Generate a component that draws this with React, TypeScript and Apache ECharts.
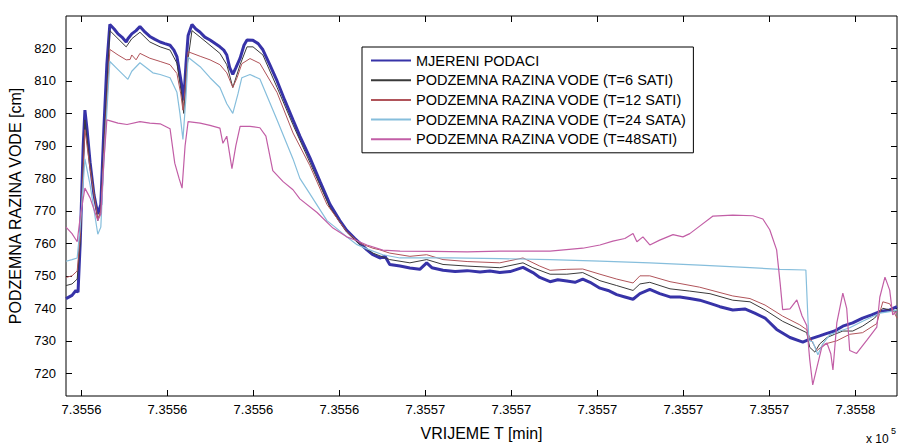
import React, { useEffect, useRef } from "react";
import * as echarts from "echarts";

// time in minutes, level in cm
const measured: [number, number][] = [
  [735557.64, 743], [735557.78, 744], [735557.87, 745.5], [735557.92, 745], [735557.97, 760], [735558.04, 790],
  [735558.08, 801], [735558.13, 795], [735558.2, 785], [735558.29, 775], [735558.38, 769], [735558.45, 772],
  [735558.52, 795], [735558.59, 815], [735558.66, 827.4], [735558.76, 826], [735558.85, 824.5], [735558.94, 823.5],
  [735559.04, 822], [735559.08, 823], [735559.17, 824.5], [735559.27, 825.5], [735559.36, 826.8], [735559.48, 825],
  [735559.59, 823.7], [735559.71, 822.8], [735559.83, 822], [735559.94, 821.5], [735560.06, 821], [735560.15, 819.5],
  [735560.22, 817.5], [735560.29, 812], [735560.34, 808], [735560.38, 804], [735560.43, 815], [735560.48, 824],
  [735560.57, 827.4], [735560.66, 826], [735560.76, 825], [735560.87, 823.5], [735560.99, 822.6], [735561.11, 821.5],
  [735561.22, 820.5], [735561.31, 819.5], [735561.38, 818], [735561.45, 814], [735561.52, 812], [735561.59, 814],
  [735561.69, 817], [735561.78, 821], [735561.85, 822.6], [735561.99, 822.5], [735562.11, 821.5], [735562.22, 819.6],
  [735562.38, 815], [735562.55, 810], [735562.73, 804], [735562.92, 798], [735563.08, 793], [735563.31, 786.5],
  [735563.55, 779], [735563.78, 772], [735564.01, 767], [735564.17, 764], [735564.36, 761.5], [735564.48, 760],
  [735564.64, 758], [735564.78, 756.5], [735564.94, 755.5], [735565.06, 756], [735565.17, 753.5], [735565.41, 753],
  [735565.64, 752.4], [735565.87, 752], [735566.03, 754], [735566.15, 752.5], [735566.41, 751.7], [735566.69, 751.3],
  [735566.97, 751.6], [735567.27, 751.2], [735567.5, 751.5], [735567.73, 751], [735567.97, 751.3], [735568.27, 752.6],
  [735568.5, 751], [735568.66, 749.5], [735568.9, 748.2], [735569.08, 748.8], [735569.29, 748.4], [735569.48, 748],
  [735569.66, 749], [735569.83, 748], [735570.06, 746.2], [735570.25, 745.5], [735570.45, 744.2], [735570.64, 743.5],
  [735570.83, 742.8], [735570.99, 744.5], [735571.22, 745.8], [735571.45, 744.5], [735571.69, 743.5], [735571.92, 743.5],
  [735572.15, 743], [735572.38, 742.5], [735572.62, 741.5], [735572.85, 740.5], [735573.15, 739.5], [735573.43, 739.8],
  [735573.66, 738.5], [735573.9, 737], [735574.17, 733.5], [735574.48, 731], [735574.78, 729.6], [735574.94, 730.5],
  [735575.17, 731.5], [735575.34, 732.3], [735575.52, 733], [735575.71, 734.5], [735575.94, 735.5], [735576.17, 737],
  [735576.38, 738], [735576.57, 739], [735576.8, 739.5], [735576.97, 740.5],
];

const model6h: [number, number][] = [
  [735557.64, 747], [735557.78, 747.5], [735557.9, 749], [735557.97, 760], [735558.08, 798], [735558.2, 784],
  [735558.38, 767], [735558.45, 770], [735558.52, 790], [735558.66, 825.5], [735558.85, 823], [735559.04, 820.5],
  [735559.17, 823], [735559.36, 825], [735559.59, 822], [735559.83, 820.5], [735560.06, 819.5], [735560.22, 815.5],
  [735560.34, 805], [735560.38, 800], [735560.43, 812], [735560.57, 825.5], [735560.76, 823.5], [735560.99, 821],
  [735561.22, 818.5], [735561.38, 815], [735561.52, 808], [735561.69, 815], [735561.85, 820.5], [735561.99, 820.5],
  [735562.22, 818], [735562.55, 808], [735562.92, 796.5], [735563.31, 785], [735563.78, 771], [735564.17, 763.5],
  [735564.48, 759.5], [735564.78, 757], [735565.17, 755], [735565.64, 754], [735566.03, 755], [735566.41, 753.5],
  [735566.97, 753], [735567.73, 752.5], [735568.27, 754], [735568.5, 752.5], [735568.9, 750.5], [735569.29, 750.5],
  [735569.66, 751], [735570.06, 748.5], [735570.45, 747], [735570.83, 745.5], [735570.99, 747.5], [735571.22, 748],
  [735571.69, 746], [735572.15, 745.3], [735572.62, 744.5], [735573.15, 742.5], [735573.55, 742], [735573.9, 739.5],
  [735574.31, 736], [735574.71, 733.5], [735574.87, 732.5], [735574.94, 728], [735575.06, 726.5], [735575.17, 729],
  [735575.34, 731], [735575.52, 732], [735575.71, 733], [735575.94, 733], [735576.17, 734.5], [735576.45, 737],
  [735576.64, 740], [735576.8, 739.5], [735576.97, 739],
];

const model12h: [number, number][] = [
  [735557.64, 749.5], [735557.78, 750], [735557.9, 751.5], [735557.97, 762], [735558.08, 795], [735558.2, 783],
  [735558.38, 767.5], [735558.45, 770], [735558.52, 788], [735558.66, 819.7], [735558.85, 818], [735559.04, 816.5],
  [735559.13, 816.6], [735559.17, 818], [735559.27, 816.5], [735559.36, 818.5], [735559.59, 817], [735559.83, 816],
  [735560.06, 815], [735560.22, 812.3], [735560.31, 806], [735560.36, 801], [735560.43, 810], [735560.48, 819],
  [735560.76, 817.6], [735560.99, 816.5], [735561.22, 815], [735561.38, 812.5], [735561.52, 808], [735561.62, 811],
  [735561.73, 815.3], [735561.92, 816.9], [735562.15, 815.4], [735562.55, 806.4], [735562.92, 794], [735563.31, 784],
  [735563.71, 772], [735564.17, 763.6], [735564.48, 760], [735564.78, 758.5], [735564.94, 758], [735565.17, 757],
  [735565.64, 756], [735566.03, 756.5], [735566.41, 755], [735566.97, 754.4], [735567.73, 754], [735568.27, 755.5],
  [735568.66, 753], [735568.9, 751.7], [735569.29, 752], [735569.66, 752.1], [735570.06, 750.5], [735570.45, 749],
  [735570.83, 747.8], [735570.99, 750], [735571.22, 750], [735571.69, 748.2], [735572.38, 746.5], [735573.15, 743.8],
  [735573.55, 743], [735573.9, 741], [735574.31, 737.6], [735574.71, 734.9], [735574.87, 733.4], [735574.94, 731],
  [735575.11, 727], [735575.29, 729], [735575.57, 730], [735575.87, 732], [735576.17, 732.5], [735576.5, 735.3],
  [735576.64, 742], [735576.8, 741.4], [735576.97, 737],
];

const model24h: [number, number][] = [
  [735557.64, 754.5], [735557.78, 755], [735557.9, 755.5], [735557.97, 765], [735558.08, 786], [735558.2, 778],
  [735558.38, 762.8], [735558.45, 765], [735558.52, 785], [735558.66, 816], [735558.85, 813.5], [735559.08, 810.5],
  [735559.17, 813], [735559.36, 815.6], [735559.66, 812.5], [735559.83, 812], [735560.06, 811], [735560.22, 806.5],
  [735560.29, 800], [735560.36, 792], [735560.43, 805], [735560.48, 817.3], [735560.76, 814.4], [735560.99, 811],
  [735561.22, 808], [735561.38, 803], [735561.52, 800], [735561.64, 806], [735561.73, 811], [735561.92, 812],
  [735562.15, 810.6], [735562.55, 798], [735562.92, 786], [735563.08, 780], [735563.31, 775.3], [735563.71, 767],
  [735563.9, 765], [735564.17, 762], [735564.41, 759.6], [735564.64, 758.3], [735565.01, 756.5], [735565.41, 755.5],
  [735566.57, 755.5], [735567.73, 755.3], [735568.9, 755], [735570.06, 754.5], [735571.22, 754], [735572.38, 753.3],
  [735573.55, 752.5], [735574.25, 752], [735574.85, 751.8], [735574.92, 730], [735575.01, 729.7], [735575.13, 725.7],
  [735575.24, 729], [735575.41, 731.9], [735575.64, 733], [735575.87, 734], [735576.17, 736], [735576.57, 738.5],
  [735576.8, 739], [735576.97, 739.5],
];

const model48h: [number, number][] = [
  [735557.64, 765], [735557.78, 763], [735557.9, 760.5], [735557.97, 768], [735558.08, 777], [735558.2, 774],
  [735558.38, 767], [735558.45, 769], [735558.52, 785], [735558.59, 798], [735558.85, 797], [735559.06, 796.6],
  [735559.36, 797.5], [735559.59, 797], [735559.83, 796.8], [735560.06, 795.3], [735560.17, 784.7], [735560.27, 780],
  [735560.34, 777], [735560.41, 790], [735560.48, 797.5], [735560.76, 797], [735560.99, 796.3], [735561.22, 795.5],
  [735561.29, 790.8], [735561.38, 793], [735561.5, 783], [735561.59, 790], [735561.69, 796], [735561.92, 796],
  [735562.15, 795.6], [735562.29, 793], [735562.45, 782.4], [735562.69, 779], [735562.92, 776.5], [735563.08, 773.7],
  [735563.48, 769.5], [735563.85, 764.7], [735564.17, 762], [735564.41, 760.8], [735564.64, 759.5], [735565.01, 757.9],
  [735565.41, 757.6], [735566.17, 757.5], [735566.97, 757.4], [735567.73, 757.6], [735568.9, 757.6], [735569.66, 758.5],
  [735570.06, 759.5], [735570.36, 760.7], [735570.64, 761.5], [735570.83, 763], [735570.92, 760.5], [735571.06, 762],
  [735571.22, 759.5], [735571.45, 761], [735571.76, 762.7], [735571.99, 762], [735572.15, 763], [735572.38, 765.3],
  [735572.69, 768.4], [735573.15, 768.7], [735573.62, 768.5], [735573.85, 767.5], [735574.01, 764.2], [735574.17, 758],
  [735574.25, 748], [735574.31, 739.6], [735574.48, 739.8], [735574.64, 742.6], [735574.76, 737.7], [735574.87, 734.7],
  [735574.94, 724.2], [735575.01, 716.4], [735575.11, 722], [735575.22, 728], [735575.34, 729.3], [735575.43, 726],
  [735575.48, 721], [735575.57, 735.5], [735575.71, 744.7], [735575.8, 740], [735575.87, 727], [735576.03, 726.1],
  [735576.27, 730.2], [735576.5, 734.2], [735576.57, 743.4], [735576.69, 749.6], [735576.8, 745.6], [735576.87, 738],
  [735576.97, 739],
];

const seriesNames = [
  "MJERENI PODACI",
  "PODZEMNA RAZINA VODE (T=6 SATI)",
  "PODZEMNA RAZINA VODE (T=12 SATI)",
  "PODZEMNA RAZINA VODE (T=24 SATA)",
  "PODZEMNA RAZINA VODE (T=48SATI)",
];

const xTicks = [735558, 735560, 735562, 735564, 735566, 735568, 735570, 735572, 735574, 735576];
const yTicks = [720, 730, 740, 750, 760, 770, 780, 790, 800, 810, 820];
const X_MIN = 735557.64;
const X_MAX = 735576.97;
const Y_MIN = 713;
const Y_MAX = 830;

const FONT = "'Liberation Sans', Arial, Helvetica, sans-serif";

export default function App() {
  const ref = useRef<HTMLDivElement>(null);
  useEffect(() => {
    document.body.style.margin = "0";
    if (!ref.current) return;
    const chart = echarts.init(ref.current, undefined, { renderer: "svg" });
    const colors = ["#3733a8", "#3a3a3a", "#b0545a", "#86bedc", "#c25ea6"];
    const widths = [3, 1, 1, 1.2, 1.2];
    const datasets = [measured, model6h, model12h, model24h, model48h];
    const tickStyle = { show: true, inside: true, length: 6, lineStyle: { color: "#000", width: 1 } };
    chart.setOption({
      animation: false,
      backgroundColor: "#fff",
      textStyle: { fontFamily: FONT },
      grid: { left: 66, right: 4, top: 16, bottom: 51, show: true, borderColor: "#000", borderWidth: 1, backgroundColor: "#fff", outerBoundsMode: "none" },
      legend: {
        orient: "vertical",
        left: 362,
        top: 47,
        itemWidth: 40,
        itemHeight: 15,
        itemGap: 4.7,
        padding: [6, 6, 6, 8],
        borderColor: "#000",
        borderWidth: 1,
        backgroundColor: "#fff",
        itemStyle: { opacity: 0 },
        textStyle: { fontSize: 14.5, lineHeight: 15, color: "#000", fontFamily: FONT },
        data: seriesNames,
      },
      xAxis: [
        {
          type: "value",
          min: X_MIN,
          max: X_MAX,
          position: "bottom",
          axisLine: { show: false },
          axisTick: { ...tickStyle, customValues: xTicks },
          splitLine: { show: false },
          axisLabel: {
            customValues: xTicks,
            formatter: (v: number) => (v / 1e5).toFixed(4),
            fontSize: 13,
            color: "#000",
            margin: 7,
            fontFamily: FONT,
          },
          name: "VRIJEME T [min]",
          nameLocation: "middle",
          nameGap: 29,
          nameTextStyle: { fontSize: 16, color: "#000", fontFamily: FONT },
        },
        {
          type: "value",
          min: X_MIN,
          max: X_MAX,
          position: "top",
          axisLine: { show: false },
          axisTick: { ...tickStyle, customValues: xTicks },
          splitLine: { show: false },
          axisLabel: { show: false },
        },
      ],
      yAxis: [
        {
          type: "value",
          min: Y_MIN,
          max: Y_MAX,
          position: "left",
          axisLine: { show: false },
          axisTick: { ...tickStyle, customValues: yTicks },
          splitLine: { show: false },
          axisLabel: { customValues: yTicks, fontSize: 13, color: "#000", margin: 10, fontFamily: FONT },
          name: "PODZEMNA RAZINA VODE [cm]",
          nameLocation: "middle",
          nameGap: 35,
          nameTextStyle: { fontSize: 16, color: "#000", fontFamily: FONT },
        },
        {
          type: "value",
          min: Y_MIN,
          max: Y_MAX,
          position: "right",
          axisLine: { show: false },
          axisTick: { ...tickStyle, customValues: yTicks },
          splitLine: { show: false },
          axisLabel: { show: false },
        },
      ],
      series: datasets.map((d, i) => ({
        name: seriesNames[i],
        type: "line",
        data: d,
        symbol: "none",
        showSymbol: false,
        xAxisIndex: 0,
        yAxisIndex: 0,
        lineStyle: { color: colors[i], width: widths[i] },
        itemStyle: { color: colors[i] },
        z: i === 0 ? 2 : 3,
      })),
      graphic: [
        { type: "text", left: 866, top: 433, style: { text: "x 10", fontSize: 12, fill: "#000", fontFamily: FONT } },
        { type: "text", left: 891, top: 426, style: { text: "5", fontSize: 9, fill: "#000", fontFamily: FONT } },
      ],
    });
    return () => chart.dispose();
  }, []);
  return <div ref={ref} style={{ width: 901, height: 447 }} />;
}
